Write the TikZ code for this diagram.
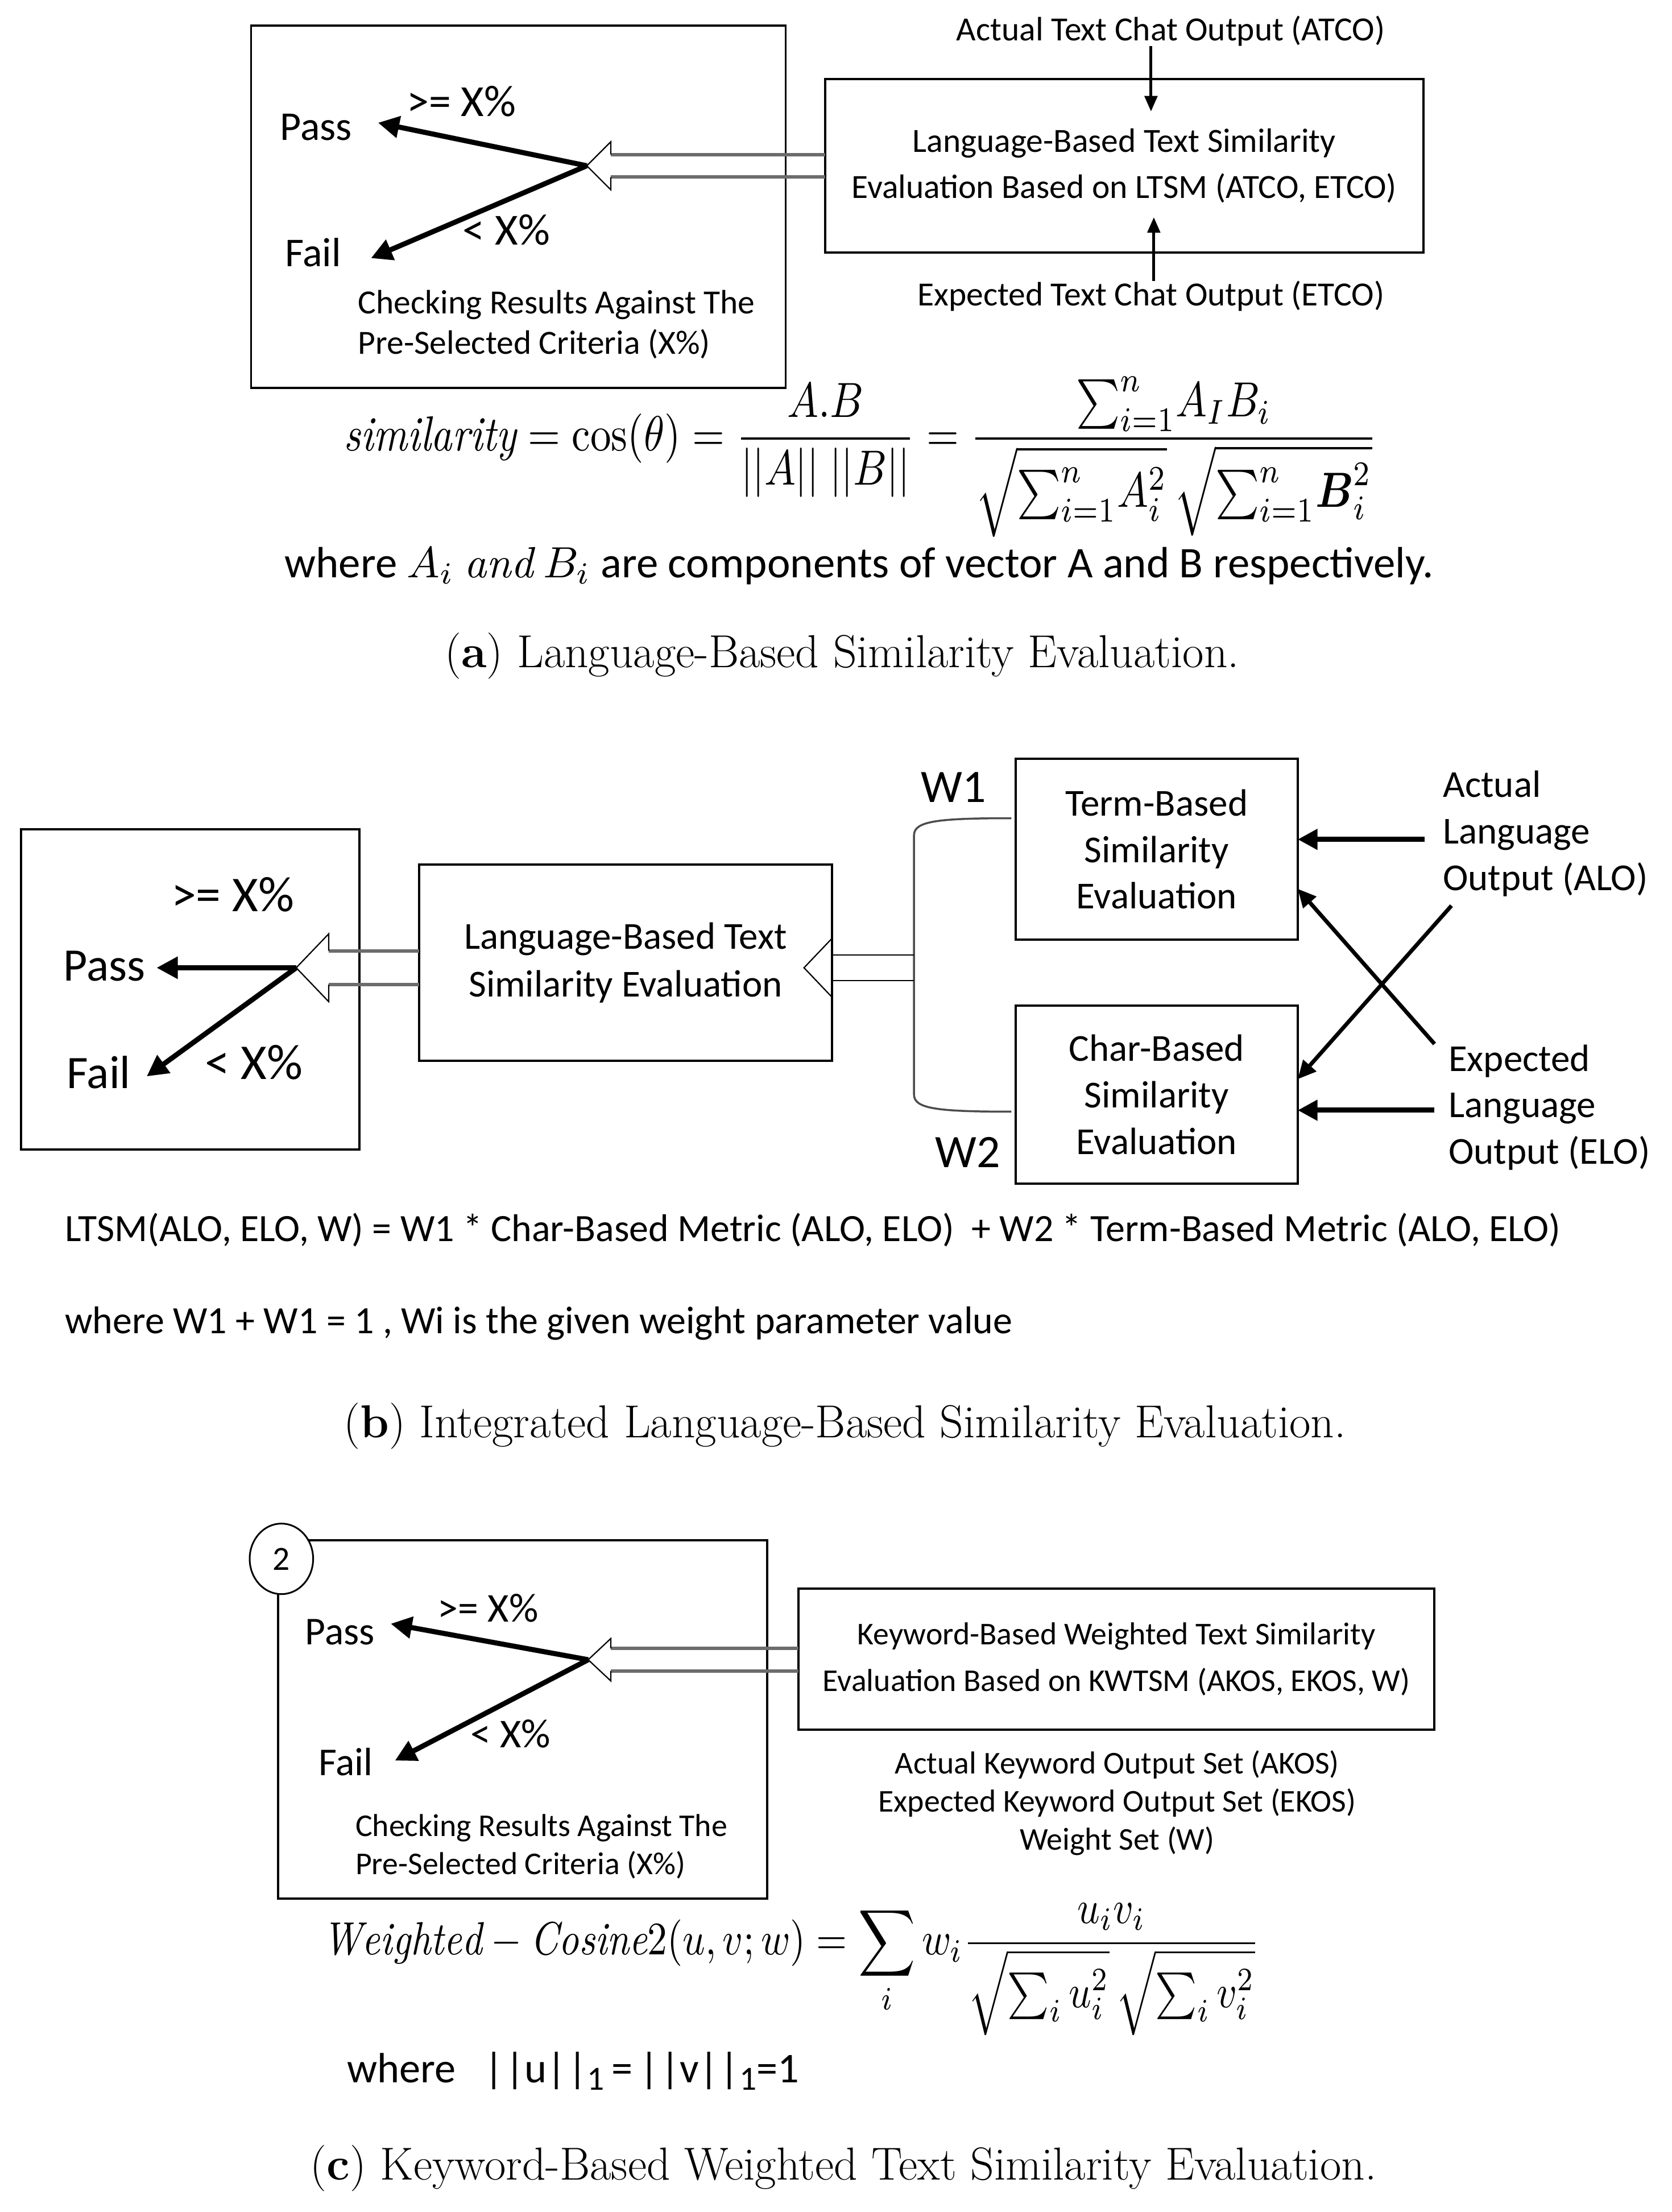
\documentclass[tikz,border=0pt]{standalone}
\usepackage{amsmath}
\usepackage{graphicx}
\usepackage{fontspec}
\newfontfamily\carl{Carlito}
\usetikzlibrary{arrows.meta,calc,shapes.geometric}
\tikzset{
  box/.style={draw, line width=1.6pt, inner sep=0pt, outer sep=0pt, align=center},
  fa/.style={font=\carl\fontsize{24}{29}\selectfont, inner sep=0pt, outer sep=0pt},
  fapf/.style={font=\carl\fontsize{29}{34}\selectfont, inner sep=0pt},
  fax/.style={font=\carl\fontsize{31.5}{36}\selectfont, inner sep=0pt},
  fb/.style={font=\carl\fontsize{27}{33}\selectfont, inner sep=0pt, outer sep=0pt},
  fbl/.style={font=\carl\fontsize{27.4}{33}\selectfont, inner sep=0pt, outer sep=0pt},
  fbpf/.style={font=\carl\fontsize{33}{38}\selectfont, inner sep=0pt},
  fbx/.style={font=\carl\fontsize{35.5}{40}\selectfont, inner sep=0pt},
  fc/.style={font=\carl\fontsize{22.5}{27}\selectfont, inner sep=0pt, outer sep=0pt},
  fcpf/.style={font=\carl\fontsize{28}{33}\selectfont, inner sep=0pt},
  fcx/.style={font=\carl\fontsize{29}{34}\selectfont, inner sep=0pt},
  capt/.style={font=\fontsize{32.8}{38}\selectfont, inner sep=0pt},
  pfarrow/.style={line width=3.6pt, -{Triangle[length=15pt,width=15pt]}},
  inarrow/.style={line width=2pt, -{Triangle[length=11pt,width=9pt]}},
  inarrowb/.style={line width=3.6pt, -{Triangle[length=14pt,width=14pt]}},
  crossarrow/.style={line width=2.8pt, -{Triangle[length=13pt,width=12pt]}},
  shaftline/.style={draw=gray!85!black, line width=2.4pt},
  headline/.style={draw=black, line width=0.9pt},
}
\newcommand{\hollowarrow}[6]{%
  % #1 tail node/coord, #2 tip coord, #3 shaft half, #4 head half, #5 head length, #6 shaft style
  \draw[#6] ($(#2)+(#5,-#3)$) -- ($(#2 -| #1)+(0,-#3)$);
  \draw[#6] ($(#2)+(#5,#3)$) -- ($(#2 -| #1)+(0,#3)$);
  \draw[headline] ($(#2)+(#5,-#3)$) -- ($(#2)+(#5,-#4)$) -- (#2) -- ($(#2)+(#5,#4)$) -- ($(#2)+(#5,#3)$);
}
\newcommand{\lowone}{\raisebox{-5pt}{\fontsize{24}{28}\selectfont 1}}
\begin{document}
\begin{tikzpicture}[x=1pt,y=-1pt]
\useasboundingbox (0,0) rectangle (1185,1568);
\fill[white] (0,0) rectangle (1185,1568);

% ================= Panel (a) =================
\node[box, minimum width=379pt, minimum height=257pt] (chkA) at (367.5,146.5) {};
\node[box, fa, minimum width=424pt, minimum height=123pt] (ltsA) at (797,117.5)
  {Language-Based Text Similarity\\[4pt]Evaluation Based on LTSM (ATCO, ETCO)};
\node[fa] (atco) at (830,22) {Actual Text Chat Output (ATCO)};
\node[fa] (etco) at (816,210) {Expected Text Chat Output (ETCO)};
\coordinate (atcoIn) at (816,79);
\coordinate (etcoIn) at (818,154);
\draw[inarrow] (atco.south -| atcoIn) -- (atcoIn);
\draw[inarrow] (etco.north -| etcoIn) -- (etcoIn);

\coordinate (tipA) at (416,117.5);
\hollowarrow{ltsA.west}{tipA}{8}{17}{17}{shaftline}
\coordinate (passA) at (268,87);
\coordinate (failA) at (263,183);
\draw[pfarrow] (tipA) -- (passA);
\draw[pfarrow] (tipA) -- (failA);
\node[fapf] (passAt) at (224,90) {Pass};
\node[fapf] (failAt) at (222,179) {Fail};
\node[fax] (geA) at (327,72) {>= X\%};
\node[fax] (ltA) at (359,163) {< X\%};
\node[fa, anchor=west, align=left] (critA) at (254,230)
  {Checking Results Against The\\Pre-Selected Criteria (X\%)};

\node[inner sep=0pt] (eqA) at (610,324) {\scalebox{2.95}[3.5]{%
  $\mathit{similarity} = \cos(\theta) = \dfrac{A.B}{||A||\;||B||}
   = \dfrac{{\textstyle\sum_{i=1}^{n}} A_I B_i}{\sqrt{\vphantom{\big|}{\textstyle\sum_{i=1}^{n}} A_i^2}\,\sqrt{\vphantom{\big|}{\textstyle\sum_{i=1}^{n}} \boldsymbol{B}_i^2}}$}};
\node[inner sep=0pt] (whereA) at (609,401)
  {\scalebox{3.1}{\carl\fontsize{10}{12}\selectfont where $A_i$ $\mathit{and}$ $B_i$ are components of vector A and B respectively.}};
\node[capt] (capA) at (597,465) {(\textbf{a}) Language-Based Similarity Evaluation.};

% ================= Panel (b) =================
\node[box, minimum width=240pt, minimum height=227pt] (chkB) at (135,701.5) {};
\node[box, fb, minimum width=293pt, minimum height=139pt] (ltsB) at (443.5,682.5)
  {Language-Based Text\\[1pt]Similarity Evaluation};
\node[box, fb, minimum width=200pt, minimum height=128pt] (term) at (820,602)
  {Term-Based\\Similarity\\Evaluation};
\node[box, fb, minimum width=200pt, minimum height=126pt] (char) at (820,776)
  {Char-Based\\Similarity\\Evaluation};
\node[fb, anchor=west, align=left] (alo) at (1023,591)
  {Actual\\Language\\Output (ALO)};
\node[fb, anchor=west, align=left] (elo) at (1027,785)
  {Expected\\Language\\Output (ELO)};
\coordinate (aloOut) at (1010,595);
\coordinate (eloOut) at (1017,787);
\draw[inarrowb] (aloOut) -- (aloOut -| term.east);
\draw[inarrowb] (eloOut) -- (eloOut -| char.east);
\coordinate (aloX) at (1029,642);
\coordinate (eloX) at (1017,740);
\draw[crossarrow] (aloX) -- (char.east |- 0,765);
\draw[crossarrow] (eloX) -- (term.east |- 0,630);
\node[fbpf] (w1) at (676,558) {W1};
\node[fbpf] (w2) at (686,817) {W2};
% bracket
\coordinate (brT) at (717,580);
\coordinate (brB) at (717,788);
\coordinate (brX) at (648,686);
\draw[gray!60!black, line width=1.4pt]
  (brT) .. controls (665,580) and (648,582) .. (648,592) -- (648,776)
  .. controls (648,786) and (665,788) .. (brB);
\coordinate (tipB2) at (570,686);
\hollowarrow{brX}{tipB2}{9}{21}{20}{headline}
\coordinate (tipB1) at (210,686);
\hollowarrow{ltsB.west}{tipB1}{12}{24}{23}{shaftline}
\coordinate (passB) at (111,686);
\coordinate (failB) at (104,763);
\draw[pfarrow] (tipB1) -- (passB);
\draw[pfarrow] (tipB1) -- (failB);
\node[fbpf] (passBt) at (74,685) {Pass};
\node[fbpf] (failBt) at (70,760) {Fail};
\node[fbx] (geB) at (165,634) {>= X\%};
\node[fbx] (ltB) at (180,753) {< X\%};
\node[fbl, anchor=west] (ltsmB) at (46,872)
  {LTSM(ALO, ELO, W) = W1 * Char-Based Metric (ALO, ELO) \ + W2 * Term-Based Metric (ALO, ELO)};
\node[fbl, anchor=west] (whereB) at (46,938)
  {where W1 + W1 = 1 , Wi is the given weight parameter value};
\node[capt] (capB) at (599,1011) {(\textbf{b}) Integrated Language-Based Similarity Evaluation.};

% ================= Panel (c) =================
\node[box, minimum width=347pt, minimum height=254pt] (chkC) at (370.5,1219) {};
\node[draw, line width=1.2pt, fill=white, ellipse, minimum width=45pt, minimum height=50pt,
  inner sep=0pt, font=\carl\fontsize{24}{29}\selectfont] (num) at (199.5,1105) {2};
\node[box, fc, minimum width=451pt, minimum height=100pt] (kwC) at (791.5,1176)
  {Keyword-Based Weighted Text Similarity\\[6pt]Evaluation Based on KWTSM (AKOS, EKOS, W)};
\node[fc, align=center] (setsC) at (792,1278)
  {Actual Keyword Output Set (AKOS)\\Expected Keyword Output Set (EKOS)\\Weight Set (W)};
\coordinate (tipC) at (417,1176.5);
\hollowarrow{kwC.west}{tipC}{8}{15}{16}{shaftline}
\coordinate (passC) at (277,1151);
\coordinate (failC) at (280,1248);
\draw[pfarrow] (tipC) -- (passC);
\draw[pfarrow] (tipC) -- (failC);
\node[fcpf] (passCt) at (241,1157) {Pass};
\node[fcpf] (failCt) at (245,1249) {Fail};
\node[fcx] (geC) at (346,1140) {>= X\%};
\node[fcx] (ltC) at (362,1229) {< X\%};
\node[fc, anchor=west, align=left] (critC) at (252,1309)
  {Checking Results Against The\\Pre-Selected Criteria (X\%)};
\node[inner sep=0pt] (eqC) at (561,1396) {\scalebox{2.8}[3.3]{%
  $\mathit{Weighted} - \mathit{Cosine}2(u,v;w) = \displaystyle\sum_{i} w_i
   \frac{u_i v_i}{\sqrt{\textstyle\sum_i u_i^2}\,\sqrt{\textstyle\sum_i v_i^2}}$}};
\node[font=\carl\fontsize{30}{34}\selectfont, anchor=west, inner sep=0pt] (whereC) at (246,1468)
  {where\hspace{20pt}|\hspace{1pt}|u|\hspace{1pt}|\lowone\hspace{5pt}=\hspace{5pt}|\hspace{1pt}|v|\hspace{1pt}|\lowone=1};
\node[capt] (capC) at (598,1537) {(\textbf{c}) Keyword-Based Weighted Text Similarity Evaluation.};
\end{tikzpicture}
\end{document}
